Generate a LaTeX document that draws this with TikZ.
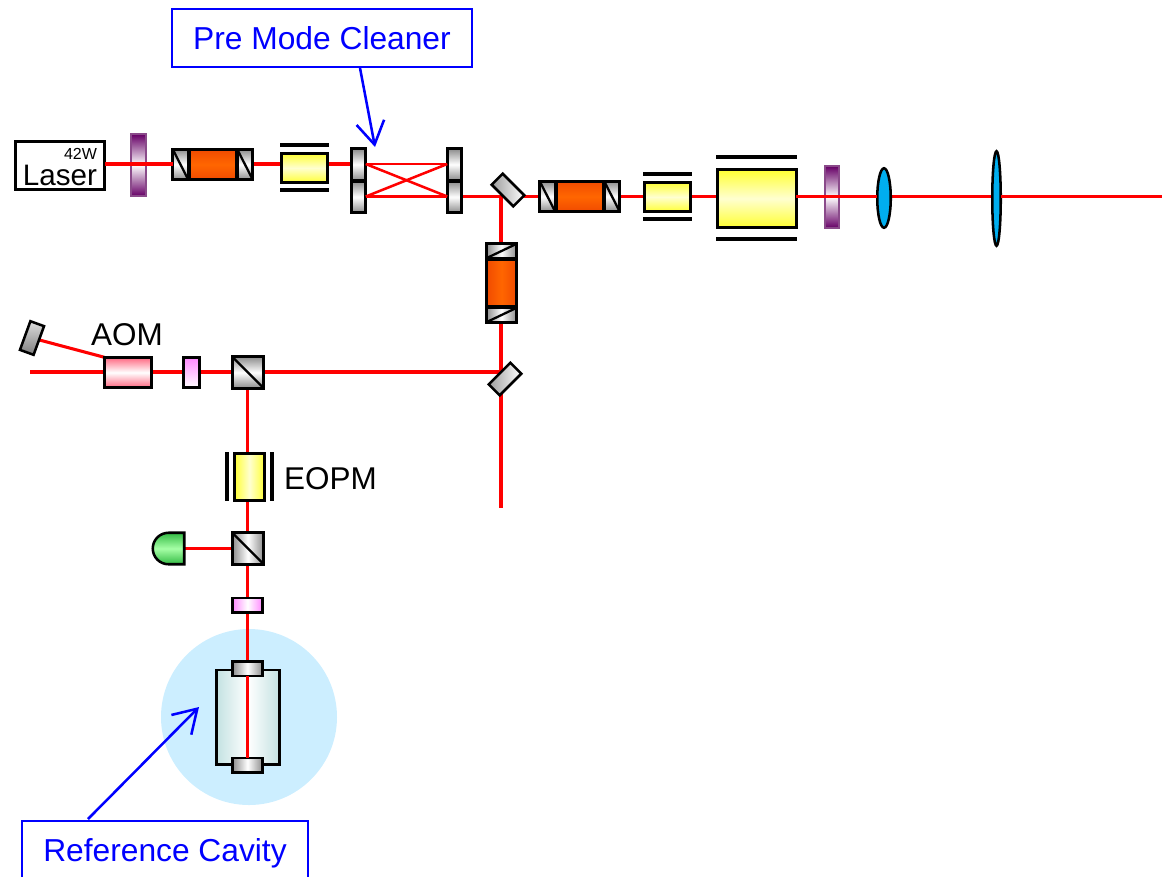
\documentclass[tikz,border=0pt]{standalone}
\usepackage{fontspec}
\setmainfont{Liberation Sans}
\usetikzlibrary{arrows.meta,shapes.geometric}
\pgfdeclarelayer{disc}
\pgfdeclarelayer{beams}
\pgfsetlayers{disc,beams,main}
\definecolor{beamred}{HTML}{FF0000}
\definecolor{labelblue}{HTML}{0000FF}
\definecolor{mgray}{HTML}{8C8C8C}
\definecolor{iorange}{HTML}{FF6600}
\definecolor{iorangeD}{HTML}{F04A00}
\definecolor{eyellow}{HTML}{FFFF33}
\definecolor{eyellowL}{HTML}{FFFFD0}
\definecolor{wpurple}{HTML}{660066}
\definecolor{wedge}{HTML}{8A4A8A}
\definecolor{apink}{HTML}{FF6680}
\definecolor{lpink}{HTML}{FF88FF}
\definecolor{dgreen}{HTML}{33BB44}
\definecolor{lgreen}{HTML}{A6FFA6}
\definecolor{lensblue}{HTML}{00AEEF}
\definecolor{discblue}{HTML}{CCEEFF}
\definecolor{cteal}{HTML}{C4E2E2}
\tikzset{
  x=0.75pt,y=-0.75pt,
  sz/.style 2 args={minimum width={(#1-2.5)*0.75pt},minimum height={(#2-2.5)*0.75pt},inner sep=0pt,outer sep=0pt},
  part/.style={draw=black,line width=1.9pt,rectangle},
  grayv/.style={part,top color=mgray,bottom color=mgray,middle color=white},
  grayh/.style={part,left color=mgray,right color=mgray,middle color=white},
  orangev/.style={part,top color=iorangeD,bottom color=iorangeD,middle color=iorange},
  orangeh/.style={part,left color=iorangeD,right color=iorangeD,middle color=iorange},
  yelv/.style={part,top color=eyellow,bottom color=eyellow,middle color=eyellowL},
  yelh/.style={part,left color=eyellow,right color=eyellow,middle color=eyellowL},
  wplate/.style={draw=wedge,line width=1.5pt,rectangle,top color=wpurple,bottom color=wpurple,middle color=white},
  pinkv/.style={part,top color=lpink,bottom color=white},
  pinkh/.style={part,left color=lpink,right color=lpink,middle color=white},
  lensn/.style={draw=black,line width=1.9pt,ellipse,fill=lensblue},
  beam/.style={draw=beamred,line width=2.3pt},
  thinbeam/.style={draw=beamred,line width=1.9pt},
  plate/.style={draw=black,line width=2.3pt},
  split/.style={draw=black,line width=1.7pt},
  callout/.style={draw=labelblue,line width=1.9pt,rectangle,text=labelblue,font=\fontsize{23.8pt}{28pt}\selectfont,inner sep=0pt,outer sep=0pt},
  pointer/.style={draw=labelblue,line width=1.9pt,-{Straight Barb[length=17pt,width=21pt,line width=1.9pt]}},
  lbl/.style={font=\fontsize{23.6pt}{28pt}\selectfont,inner sep=0pt}
}
\begin{document}
\begin{tikzpicture}
\useasboundingbox (0,0) rectangle (1162,876);
\clip (0,0) rectangle (1162,876);
\coordinate (lvlA) at (0,164);
\coordinate (lvlB) at (0,196.5);
% laser line
\node[part,fill=white,sz={92}{51}] (laser) at (60,165.5) {};
\node[lbl,font=\fontsize{22.2pt}{26pt}\selectfont] (lasertxt) at (60,175) {Laser};
\node[lbl,font=\fontsize{12pt}{14pt}\selectfont] (power) at (80.5,154) {42W};
\node[wplate,sz={17}{64}] (wpa) at (138.5,165) {};
\node[grayv,sz={18}{33}] (isoaL) at (180.5,164.5) {};
\node[orangev,sz={49}{33}] (isoaM) at (213,164.5) {};
\node[grayv,sz={18}{33}] (isoaR) at (245,164.5) {};
\draw[split] (isoaL.north west) -- (isoaL.south east);
\draw[split] (isoaR.north west) -- (isoaR.south east);
\node[yelv,sz={49}{32}] (eoma) at (304.5,168) {};
\coordinate (pa1) at (280,145); \coordinate (pa2) at (329,145);
\coordinate (pa3) at (280,190); \coordinate (pa4) at (329,190);
\draw[plate] (pa1) -- (pa2);
\draw[plate] (pa3) -- (pa4);
% PMC
\node[grayv,sz={17}{34}] (pmcTL) at (358.5,164.5) {};
\node[grayv,sz={17}{34}] (pmcBL) at (358.5,197) {};
\node[grayv,sz={17}{34}] (pmcTR) at (454.5,164.5) {};
\node[grayv,sz={17}{34}] (pmcBR) at (454.5,197) {};
\node[part,rotate=-45,left color=mgray!85!white,right color=white,sz={33}{18}] (mirA) at (508,190) {};
% second isolator and modulators
\node[grayv,sz={18}{33}] (isobL) at (547.5,196.5) {};
\node[orangev,sz={49}{33}] (isobM) at (580,196.5) {};
\node[grayv,sz={18}{33}] (isobR) at (612,196.5) {};
\draw[split] (isobL.north west) -- (isobL.south east);
\draw[split] (isobR.north west) -- (isobR.south east);
\node[yelv,sz={49}{32}] (eomb) at (667.5,197) {};
\coordinate (pb1) at (643,174); \coordinate (pb2) at (692,174);
\coordinate (pb3) at (643,219); \coordinate (pb4) at (692,219);
\draw[plate] (pb1) -- (pb2);
\draw[plate] (pb3) -- (pb4);
\node[yelv,sz={81}{60}] (eomc) at (757,198.5) {};
\coordinate (pc1) at (716,157); \coordinate (pc2) at (797,157);
\coordinate (pc3) at (716,239); \coordinate (pc4) at (797,239);
\draw[plate] (pc1) -- (pc2);
\draw[plate] (pc3) -- (pc4);
\node[wplate,sz={16}{64}] (wpb) at (832,197) {};
\node[lensn,sz={16}{62}] (lensa) at (884,198) {};
\node[lensn,sz={11}{97}] (lensb) at (996.5,198.5) {};
\coordinate (endR) at (1162,196.5);
% vertical isolator
\node[grayh,sz={33}{17}] (isocT) at (501.5,251) {};
\node[orangeh,sz={33}{49}] (isocM) at (501.5,283) {};
\node[grayh,sz={33}{17}] (isocB) at (501.5,315) {};
\draw[split] (isocT.south west) -- (isocT.north east);
\draw[split] (isocB.south west) -- (isocB.north east);
\node[part,rotate=45,left color=mgray!85!white,right color=white,sz={33}{18}] (mirB) at (505,379) {};
\coordinate (endD) at (501,508);
\coordinate (splitA) at (501,196.5);
\coordinate (splitB) at (501,372);
\coordinate (endL) at (30,372);
% reference path
\node[part,rotate=-20,top color=white!70!mgray,bottom color=mgray!90!black,sz={17}{33}] (mirC) at (32,338) {};
\node[part,top color=apink,bottom color=apink,middle color=white,sz={50}{33}] (aom) at (128,372.5) {};
\node[lbl] (aomt) at (127,335) {AOM};
\node[pinkv,sz={18}{33}] (wpc) at (191.5,372.5) {};
\node[grayv,sz={34}{34}] (pbsa) at (248,372.5) {};
\draw[split] (pbsa.north west) -- (pbsa.south east);
\node[yelh,sz={33}{49}] (eopm) at (249.5,477) {};
\coordinate (pd1) at (227,452); \coordinate (pd2) at (227,501);
\coordinate (pd3) at (272,452); \coordinate (pd4) at (272,501);
\draw[plate] (pd1) -- (pd2);
\draw[plate] (pd3) -- (pd4);
\node[lbl] (eopmt) at (330.5,479) {EOPM};
\node[grayh,sz={34}{34}] (pbsb) at (248,548.5) {};
\draw[split] (pbsb.north west) -- (pbsb.south east);
\node[sz={34}{34}] (pdet) at (168.5,548.5) {};
\draw[part,top color=dgreen,bottom color=dgreen,middle color=lgreen]
  (pdet.north east) -- (pdet.north)
  .. controls ([xshift=-6.5pt]pdet.north) and ([yshift=6.5pt]pdet.west) .. (pdet.west)
  .. controls ([yshift=-6.5pt]pdet.west) and ([xshift=-6.5pt]pdet.south) .. (pdet.south)
  -- (pdet.south east) -- cycle;
\node[pinkh,sz={33}{17}] (wpd) at (247.5,605) {};
% cavity
\node[part,left color=cteal,right color=cteal,middle color=white,sz={65}{97}] (cav) at (248,717) {};
\node[grayh,sz={33}{17}] (cavT) at (247.5,668.5) {};
\node[grayh,sz={33}{17}] (cavB) at (247.5,765) {};
% beams
\begin{pgfonlayer}{disc}
\node[circle,fill=discblue,minimum size=132pt,inner sep=0pt,outer sep=0pt] (disc) at (249,717) {};
\end{pgfonlayer}
\begin{pgfonlayer}{beams}
\draw[beam] (isoaR.east|-lvlA) -- (eoma.west|-lvlA);
\draw[beam] (eoma.east|-lvlA) -- (pmcTL.west|-lvlA);
\draw[beam] (pmcBR.east|-lvlB) -- (isobL.west|-lvlB);
\draw[beam] (isobR.east|-lvlB) -- (eomb.west|-lvlB);
\draw[beam] (eomb.east|-lvlB) -- (eomc.west|-lvlB);
\draw[beam] (lensa.east|-lvlB) -- (lensb.west|-lvlB);
\draw[beam] (splitA) -- (isocT.north-|splitA);
\draw[beam] (isocB.south-|splitA) -- (endD);
\draw[beam] (splitB) -- (pbsa.east|-splitB);
\draw[beam] (pbsa.south-|cavT) -- (eopm.north-|cavT);
\draw[beam] (eopm.south-|cavT) -- (pbsb.north-|cavT);
\draw[beam] (pbsb.south-|cavT) -- (wpd.north);
\draw[beam] (wpd.south) -- (cavT.north);
\draw[beam] (pdet.east) -- (pbsb.west);
\draw[beam] (endL) -- (aom.west|-endL);
\draw[beam] (aom.east|-endL) -- (wpc.west|-endL);
\draw[beam] (wpc.east|-endL) -- (pbsa.west|-endL);
\draw[beam] (aom.north west) -- (mirC);
\end{pgfonlayer}
\coordinate (pmcA) at (pmcTL.east|-lvlA);
\coordinate (pmcB) at (pmcTR.west|-lvlA);
\coordinate (pmcC) at (pmcBL.east|-lvlB);
\coordinate (pmcD) at (pmcBR.west|-lvlB);
\draw[beam] (laser.east|-lvlA) -- (isoaL.west|-lvlA);
\draw[thinbeam] (pmcA) -- (pmcB);
\draw[thinbeam] (pmcC) -- (pmcD);
\draw[thinbeam] (pmcA) -- (pmcD);
\draw[thinbeam] (pmcC) -- (pmcB);
\draw[beam] (eomc.east|-lvlB) -- (lensa.west|-lvlB);
\draw[beam] (lensb.east|-lvlB) -- (endR);
\draw[beam] (cavT.south) -- (cavB.north);
% callouts
\node[callout,minimum width=225pt,minimum height=43.5pt] (pmct) at (322,38) {Pre Mode Cleaner};
\coordinate (pmctail) at (360,68);
\coordinate (pmctip) at (375,147);
\draw[pointer] (pmctail) -- (pmctip);
\node[callout,minimum width=214.5pt,minimum height=48pt] (rct) at (165,853) {Reference Cavity};
\coordinate (rctail) at (88,819);
\coordinate (rctip) at (199,707);
\draw[pointer] (rctail) -- (rctip);
\end{tikzpicture}
\end{document}
